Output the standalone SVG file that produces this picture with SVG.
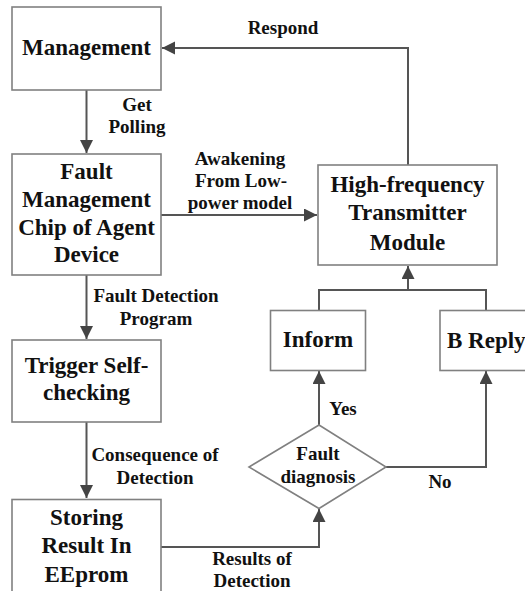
<svg xmlns="http://www.w3.org/2000/svg" width="525" height="591" viewBox="0 0 525 591">
<style>
.box{fill:#fff;stroke:#808080;stroke-width:1.6}
.edge{fill:none;stroke:#555;stroke-width:2}
.nt{font-family:"Liberation Serif","Times New Roman",serif;font-weight:bold;font-size:23px;fill:#111;text-anchor:middle}
.lt{font-family:"Liberation Serif","Times New Roman",serif;font-weight:bold;font-size:19px;fill:#111;text-anchor:middle}
</style>
<defs>
<marker id="ah" markerUnits="userSpaceOnUse" markerWidth="14" markerHeight="14" refX="13" refY="6.5" orient="auto">
<path d="M0,0 L13,6.5 L0,13 z" fill="#444"/>
</marker>
</defs>
<rect width="525" height="591" fill="#fff"/>
<g id="connectors">
<path class="edge" d="M86.5,90 V153" marker-end="url(#ah)"/>
<path class="edge" d="M161,215 H317" marker-end="url(#ah)"/>
<path class="edge" d="M408,165 V48 H162" marker-end="url(#ah)"/>
<path class="edge" d="M86.5,275 V339" marker-end="url(#ah)"/>
<path class="edge" d="M86.5,422 V498" marker-end="url(#ah)"/>
<path class="edge" d="M161,547 H319 V509" marker-end="url(#ah)"/>
<path class="edge" d="M319,425 V371" marker-end="url(#ah)"/>
<path class="edge" d="M386,467 H486 V371" marker-end="url(#ah)"/>
<path class="edge" d="M319,310 V290 H486 V310"/>
<path class="edge" d="M408,290 V266" marker-end="url(#ah)"/>
<text class="lt" x="283" y="34">Respond</text>
<text class="lt" x="137" y="111">Get</text>
<text class="lt" x="137" y="133">Polling</text>
<text class="lt" x="240" y="165">Awakening</text>
<text class="lt" x="241" y="187">From Low-</text>
<text class="lt" x="240" y="209">power model</text>
<text class="lt" x="156" y="302">Fault Detection</text>
<text class="lt" x="156" y="325">Program</text>
<text class="lt" x="155" y="461">Consequence of</text>
<text class="lt" x="155" y="484">Detection</text>
<text class="lt" x="252" y="565">Results of</text>
<text class="lt" x="252" y="587">Detection</text>
<text class="lt" x="343" y="415">Yes</text>
<text class="lt" x="440" y="488">No</text>
</g>
<g id="management">
<rect class="box" x="12" y="7" width="149" height="83"/>
<text class="nt" x="86.5" y="55">Management</text>
</g>
<g id="fault-management-chip">
<rect class="box" x="12" y="154" width="149" height="121"/>
<text class="nt" x="86.5" y="179">Fault</text>
<text class="nt" x="86.5" y="207">Management</text>
<text class="nt" x="86.5" y="235">Chip of Agent</text>
<text class="nt" x="86.5" y="262">Device</text>
</g>
<g id="hf-transmitter">
<rect class="box" x="318" y="165" width="179" height="100"/>
<text class="nt" x="407.5" y="192">High-frequency</text>
<text class="nt" x="407.5" y="220">Transmitter</text>
<text class="nt" x="407.5" y="250">Module</text>
</g>
<g id="trigger">
<rect class="box" x="12" y="340" width="149" height="82"/>
<text class="nt" x="86.5" y="373">Trigger Self-</text>
<text class="nt" x="86.5" y="400">checking</text>
</g>
<g id="storing">
<rect class="box" x="12" y="499.5" width="149" height="100"/>
<text class="nt" x="86.5" y="525">Storing</text>
<text class="nt" x="86.5" y="553">Result In</text>
<text class="nt" x="86.5" y="582">EEprom</text>
</g>
<g id="inform">
<rect class="box" x="270.5" y="310.5" width="95" height="60"/>
<text class="nt" x="318" y="347">Inform</text>
</g>
<g id="b-reply">
<rect class="box" x="440" y="310.5" width="95" height="60"/>
<text class="nt" x="447" y="348" style="text-anchor:start">B Reply</text>
</g>
<g id="fault-diagnosis">
<polygon class="box" points="319,425 386,467 319,508.5 249,467"/>
<text class="lt" x="318" y="460">Fault</text>
<text class="lt" x="318" y="483">diagnosis</text>
</g>
</svg>
